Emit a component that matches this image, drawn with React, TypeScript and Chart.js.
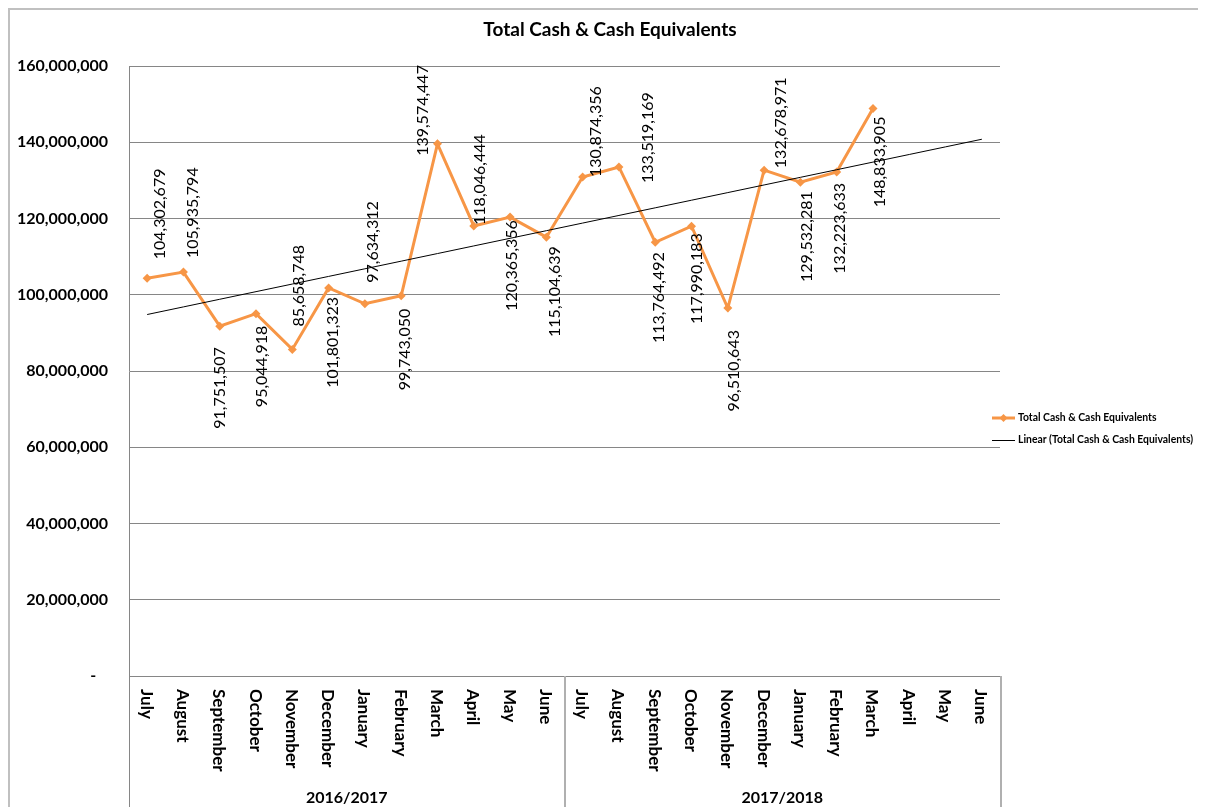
import React, { useEffect, useRef } from "react";
import { Chart, registerables } from "chart.js";

Chart.register(...registerables);

const months = ["July", "August", "September", "October", "November", "December", "January", "February", "March", "April", "May", "June"];
const categories = [...months, ...months];
const groups = ["2016/2017", "2017/2018"];
const cashValues: (number | null)[] = [
  104302679, 105935794, 91751507, 95044918, 85658748, 101801323, 97634312, 99743050, 139574447, 118046444, 120365356, 115104639,
  130874356, 133519169, 113764492, 117990183, 96510643, 132678971, 129532281, 132223633, 148833905, null, null, null,
];
const yTicks = [0, 20000000, 40000000, 60000000, 80000000, 100000000, 120000000, 140000000, 160000000];
const seriesName = "Total Cash & Cash Equivalents";
const trendName = "Linear (Total Cash & Cash Equivalents)";
const chartTitle = "Total Cash & Cash Equivalents";

// data label placement (relative to each point)
const labelSide = ["up", "up", "down", "down", "up", "down", "up", "down", "up", "up", "down", "down", "up", "up", "down", "down", "down", "up", "down", "down", "down"];
const labelDx = [13, 9, 0, 6, 7, 4, 8, 4, -15, 6, 2, 8, 13, 29, 4, 5, 6, 17, 6, 3, 7];
const labelOff = [-19, -14, 21, 12, -23, 9, -21, 13, 12, -1, 3, 9, 0, 16, 10, 7, 22, -2, 9, 11, 8];

const ORANGE = "#F79646";
const FONT = "Lato, 'Open Sans', sans-serif";
const fmt = (v: number) => v.toLocaleString("en-US");

function linearTrend(values: (number | null)[], n: number): number[] {
  const pts: [number, number][] = [];
  values.forEach((v, i) => { if (v != null) pts.push([i, v]); });
  const mx = pts.reduce((s, p) => s + p[0], 0) / pts.length;
  const my = pts.reduce((s, p) => s + p[1], 0) / pts.length;
  let sxy = 0, sxx = 0;
  pts.forEach(([x, y]) => { sxy += (x - mx) * (y - my); sxx += (x - mx) * (x - mx); });
  const b = sxy / sxx;
  const a = my - b * mx;
  return Array.from({ length: n }, (_, i) => a + b * i);
}

const decorPlugin = {
  id: "decor",
  afterDraw(chart: any) {
    const { ctx, chartArea, scales } = chart;
    const xs = scales.x;
    const W = chart.width, H = chart.height;
    ctx.save();
    // outer frame (top & left)
    ctx.strokeStyle = "#c0c0c0";
    ctx.lineWidth = 2;
    ctx.beginPath();
    ctx.moveTo(1, H);
    ctx.lineTo(1, 1);
    ctx.lineTo(W, 1);
    ctx.stroke();

    // separators below the axis
    const mid = (xs.getPixelForValue(11) + xs.getPixelForValue(12)) / 2;
    ctx.lineWidth = 1;
    ctx.strokeStyle = "#868686";
    ctx.beginPath();
    ctx.moveTo(Math.round(chartArea.left) + 0.5, chartArea.bottom);
    ctx.lineTo(Math.round(chartArea.left) + 0.5, H);
    ctx.stroke();
    ctx.strokeStyle = "#b0b0b0";
    ctx.lineWidth = 2;
    [mid, chartArea.right + 1].forEach((x) => {
      ctx.beginPath();
      ctx.moveTo(Math.round(x), chartArea.bottom);
      ctx.lineTo(Math.round(x), H);
      ctx.stroke();
    });

    // month labels (rotated clockwise)
    ctx.fillStyle = "#000";
    ctx.font = `bold 17px ${FONT}`;
    ctx.textAlign = "left";
    ctx.textBaseline = "middle";
    categories.forEach((c, i) => {
      const x = xs.getPixelForValue(i);
      ctx.save();
      ctx.translate(x - 1, chartArea.bottom + 13);
      ctx.rotate(Math.PI / 2);
      ctx.fillText(c, 0, 0);
      ctx.restore();
    });

    // group labels
    ctx.textAlign = "center";
    ctx.font = `bold 16px ${FONT}`;
    const gx = [(chartArea.left + mid) / 2, (mid + chartArea.right) / 2];
    groups.forEach((g, i) => ctx.fillText(g, gx[i], 790));

    // title
    ctx.font = `bold 19px ${FONT}`;
    ctx.fillText(chartTitle, 602, 22);

    // data labels (rotated counter-clockwise)
    const meta = chart.getDatasetMeta(1);
    ctx.font = `16px ${FONT}`;
    cashValues.forEach((v, i) => {
      if (v == null) return;
      const pt = meta.data[i];
      ctx.save();
      ctx.translate(pt.x + labelDx[i], pt.y + labelOff[i]);
      ctx.rotate(-Math.PI / 2);
      ctx.textAlign = labelSide[i] === "up" ? "left" : "right";
      ctx.textBaseline = "middle";
      ctx.fillText(fmt(v), 0, 0);
      ctx.restore();
    });

    // legend
    const lx0 = 984, lx1 = 1007, tx = 1010;
    const r1 = 410, r2 = 432;
    ctx.strokeStyle = ORANGE;
    ctx.lineWidth = 3;
    ctx.beginPath();
    ctx.moveTo(lx0, r1);
    ctx.lineTo(lx1, r1);
    ctx.stroke();
    ctx.fillStyle = ORANGE;
    ctx.beginPath();
    const cx = (lx0 + lx1) / 2, rr = 4;
    ctx.moveTo(cx, r1 - rr);
    ctx.lineTo(cx + rr, r1);
    ctx.lineTo(cx, r1 + rr);
    ctx.lineTo(cx - rr, r1);
    ctx.closePath();
    ctx.fill();
    ctx.strokeStyle = "#000";
    ctx.lineWidth = 1;
    ctx.beginPath();
    ctx.moveTo(lx0, r2 + 0.5);
    ctx.lineTo(lx1, r2 + 0.5);
    ctx.stroke();
    ctx.fillStyle = "#000";
    ctx.font = `bold 10.4px ${FONT}`;
    ctx.textAlign = "left";
    ctx.textBaseline = "middle";
    ctx.fillText(seriesName, tx, r1);
    ctx.fillText(trendName, tx, r2);
    ctx.restore();
  },
};

export default function App() {
  const ref = useRef<HTMLCanvasElement | null>(null);
  useEffect(() => {
    document.body.style.overflow = "hidden";
    const canvas = ref.current!;
    const trend = linearTrend(cashValues, categories.length);
    const chart = new Chart(canvas, {
      type: "line",
      data: {
        labels: categories,
        datasets: [
          {
            label: trendName,
            data: trend,
            borderColor: "#000",
            borderWidth: 1,
            pointRadius: 0,
            tension: 0,
            order: 0,
          },
          {
            label: seriesName,
            data: cashValues,
            borderColor: ORANGE,
            backgroundColor: ORANGE,
            borderWidth: 3,
            pointStyle: "rectRot",
            pointRadius: 4.5,
            pointBackgroundColor: ORANGE,
            pointBorderColor: ORANGE,
            pointBorderWidth: 0,
            tension: 0,
            order: 1,
          },
        ],
      },
      options: {
        responsive: false,
        animation: false,
        devicePixelRatio: 1,
        layout: { padding: { left: 0, top: 58, right: 206, bottom: 0 } },
        plugins: { legend: { display: false }, tooltip: { enabled: false }, title: { display: false } },
        scales: {
          x: {
            type: "category",
            offset: true,
            grid: { display: false, drawTicks: false },
            border: { display: true, color: "#868686", width: 1 },
            ticks: { display: false },
            afterFit: (s: any) => { s.height = 131; },
          },
          y: {
            min: 0,
            max: 160000000,
            afterBuildTicks: (s: any) => { s.ticks = yTicks.map((v) => ({ value: v })); },
            grid: { color: "#868686", lineWidth: 1, drawTicks: false },
            border: { display: true, color: "#868686", width: 1 },
            ticks: {
              padding: 21,
              color: "#000",
              font: { family: FONT, size: 16, weight: "bold" },
              callback: (v: any) => (v === 0 ? "-   " : fmt(Number(v))),
            },
            afterFit: (s: any) => { s.width = 121; },
          },
        },
      },
      plugins: [decorPlugin],
    });
    return () => chart.destroy();
  }, []);
  return <canvas ref={ref} width={1198} height={799} style={{ display: "block" }} />;
}
